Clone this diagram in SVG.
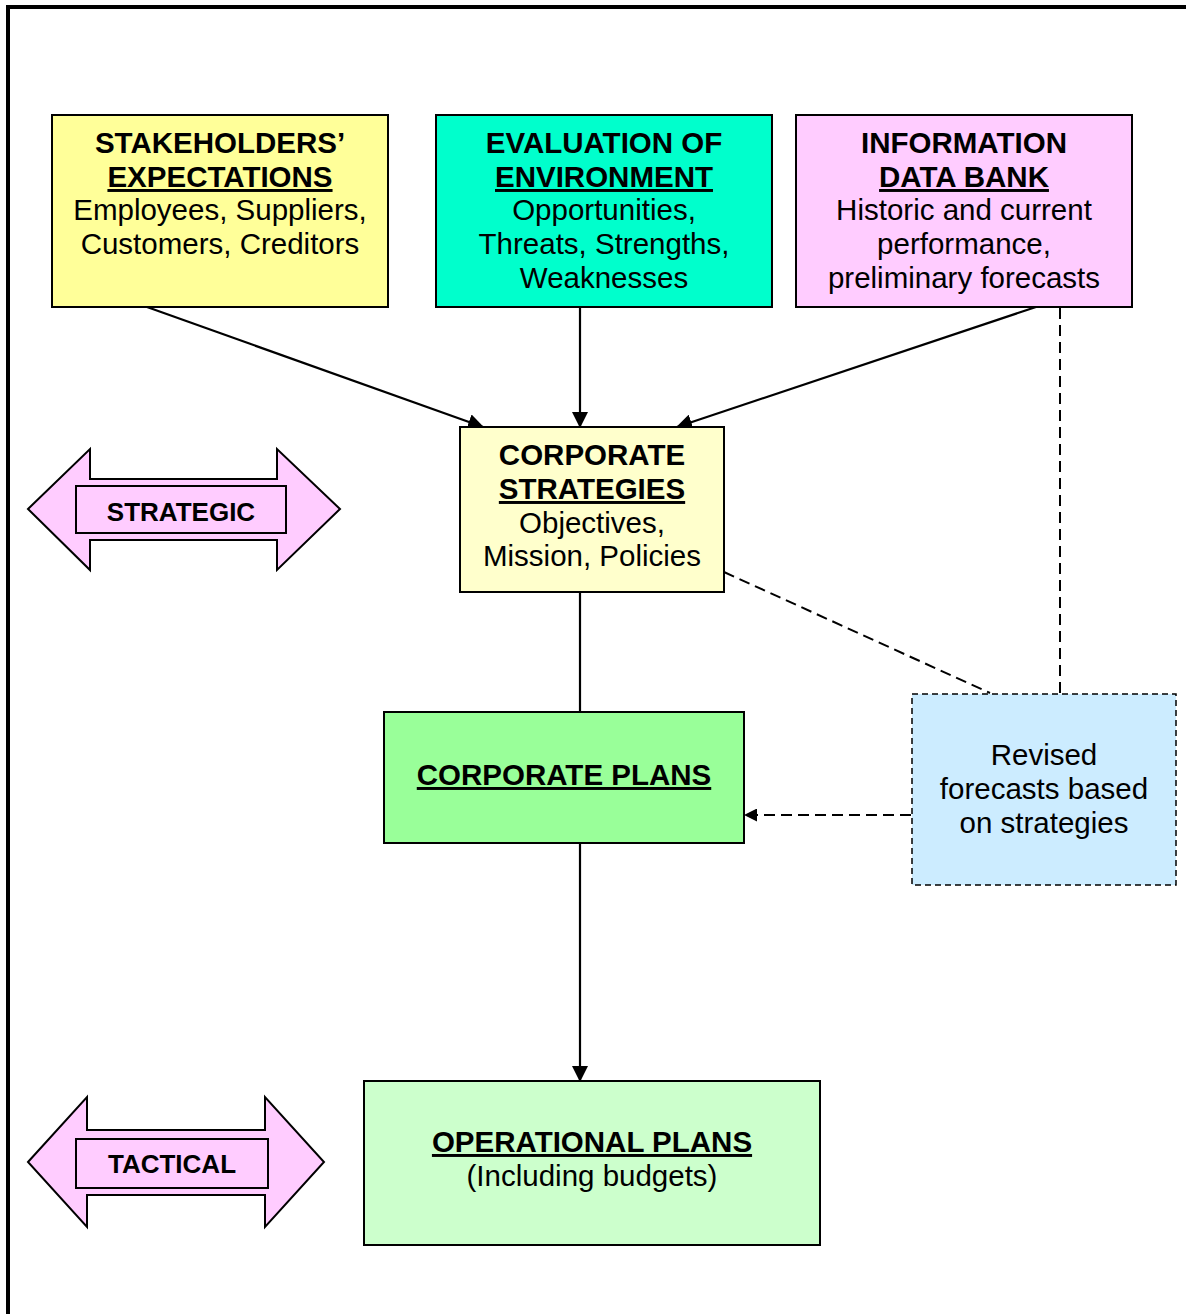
<svg xmlns="http://www.w3.org/2000/svg" width="1186" height="1314" viewBox="0 0 1186 1314">
  <style>
    .box { stroke: #000; stroke-width: 2; }
    .t { font-family: "Liberation Sans", Arial, sans-serif; font-size: 29.5px; text-anchor: middle; fill: #000; }
    .b { font-weight: bold; }
    .u { text-decoration: underline; }
    .tag { font-family: "Liberation Sans", Arial, sans-serif; font-size: 26px; font-weight: bold; text-anchor: middle; fill: #000; }
    .dbl { fill: #FFCCFF; stroke: #000; stroke-width: 2; stroke-linejoin: miter; }
    .wire { stroke: #000; stroke-width: 2.2; fill: none; }
    .dash { stroke: #000; stroke-width: 2; fill: none; stroke-dasharray: 11 6; }
  </style>
  <defs>
    <marker id="head" markerUnits="userSpaceOnUse" markerWidth="16" markerHeight="16" viewBox="0 0 16 16" refX="15" refY="8" orient="auto">
      <path d="M0,0 L16,8 L0,16 Z" fill="#000"/>
    </marker>
    <marker id="headSmall" markerUnits="userSpaceOnUse" markerWidth="13" markerHeight="13" viewBox="0 0 13 13" refX="12" refY="6.5" orient="auto">
      <path d="M0,0 L13,6.5 L0,13 Z" fill="#000"/>
    </marker>
  </defs>

  <rect width="1186" height="1314" fill="#fff"/>
  <!-- page frame -->
  <path d="M8,1314 L8,7 L1186,7" fill="none" stroke="#000" stroke-width="4"/>

  <g id="connectors">
    <line class="wire" x1="147" y1="307" x2="483" y2="427" marker-end="url(#head)"/>
    <line class="wire" x1="580" y1="307" x2="580" y2="427" marker-end="url(#head)"/>
    <line class="wire" x1="1036" y1="307" x2="677" y2="427" marker-end="url(#head)"/>
    <line class="wire" x1="580" y1="592" x2="580" y2="712"/>
    <line class="wire" x1="580" y1="843" x2="580" y2="1081" marker-end="url(#head)"/>
    <line class="dash" x1="1060" y1="308" x2="1060" y2="693"/>
    <line class="dash" x1="724" y1="572" x2="990" y2="693"/>
    <line class="dash" x1="911" y1="815" x2="745" y2="815" marker-end="url(#headSmall)"/>
  </g>

  <g id="stakeholders">
    <rect class="box" x="52" y="115" width="336" height="192" fill="#FFFF99"/>
    <text class="t b" x="220" y="153">STAKEHOLDERS’</text>
    <text class="t b u" x="220" y="187">EXPECTATIONS</text>
    <text class="t" x="220" y="220">Employees, Suppliers,</text>
    <text class="t" x="220" y="254">Customers, Creditors</text>
  </g>

  <g id="environment">
    <rect class="box" x="436" y="115" width="336" height="192" fill="#00FFCC"/>
    <text class="t b" x="604" y="153">EVALUATION OF</text>
    <text class="t b u" x="604" y="187">ENVIRONMENT</text>
    <text class="t" x="604" y="220">Opportunities,</text>
    <text class="t" x="604" y="254">Threats, Strengths,</text>
    <text class="t" x="604" y="288">Weaknesses</text>
  </g>

  <g id="databank">
    <rect class="box" x="796" y="115" width="336" height="192" fill="#FFCCFF"/>
    <text class="t b" x="964" y="153">INFORMATION</text>
    <text class="t b u" x="964" y="187">DATA BANK</text>
    <text class="t" x="964" y="220">Historic and current</text>
    <text class="t" x="964" y="254">performance,</text>
    <text class="t" x="964" y="288">preliminary forecasts</text>
  </g>

  <g id="corporate-strategies">
    <rect class="box" x="460" y="427" width="264" height="165" fill="#FFFFCC"/>
    <text class="t b" x="592" y="465">CORPORATE</text>
    <text class="t b u" x="592" y="499">STRATEGIES</text>
    <text class="t" x="592" y="533">Objectives,</text>
    <text class="t" x="592" y="566">Mission, Policies</text>
  </g>

  <g id="corporate-plans">
    <rect class="box" x="384" y="712" width="360" height="131" fill="#99FF99"/>
    <text class="t b u" x="564" y="785">CORPORATE PLANS</text>
  </g>

  <g id="revised-forecasts">
    <rect x="912" y="694" width="264" height="191" fill="#CCECFF" stroke="#000" stroke-width="1.5" stroke-dasharray="6 4"/>
    <text class="t" x="1044" y="765">Revised</text>
    <text class="t" x="1044" y="799">forecasts based</text>
    <text class="t" x="1044" y="833">on strategies</text>
  </g>

  <g id="operational-plans">
    <rect class="box" x="364" y="1081" width="456" height="164" fill="#CCFFCC"/>
    <text class="t b u" x="592" y="1152">OPERATIONAL PLANS</text>
    <text class="t" x="592" y="1186">(Including budgets)</text>
  </g>

  <g id="strategic">
    <path class="dbl" d="M28,509 L90,449 L90,479 L277,479 L277,449 L340,509 L277,570 L277,540 L90,540 L90,570 Z"/>
    <rect class="dbl" x="76" y="486" width="210" height="47"/>
    <text class="tag" x="181" y="521">STRATEGIC</text>
  </g>

  <g id="tactical">
    <path class="dbl" d="M28,1162 L87,1097 L87,1130 L265,1130 L265,1097 L324,1162 L265,1227 L265,1195 L87,1195 L87,1227 Z"/>
    <rect class="dbl" x="76" y="1139" width="192" height="49"/>
    <text class="tag" x="172" y="1173">TACTICAL</text>
  </g>
</svg>
